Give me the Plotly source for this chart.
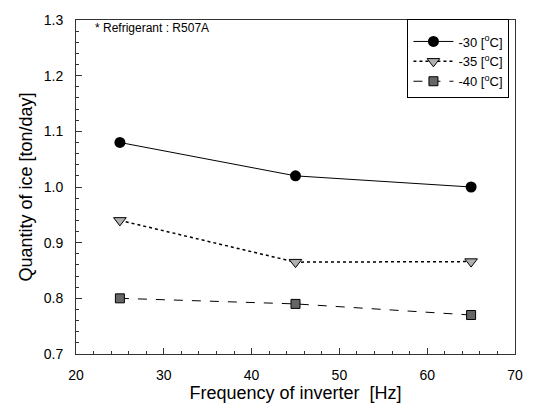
import plotly.graph_objects as go

freq = [25, 45, 65]
ice_m30 = [1.08, 1.02, 1.00]
ice_m35 = [0.94, 0.865, 0.866]
ice_m40 = [0.80, 0.79, 0.77]
names = ["-30 [<sup>o</sup>C]", "-35 [<sup>o</sup>C]", "-40 [<sup>o</sup>C]"]

fig = go.Figure()
fig.add_trace(go.Scatter(x=freq, y=ice_m30, name=names[0], mode="lines+markers",
                         line=dict(color="black", width=1),
                         marker=dict(symbol="circle", size=11, color="black")))
fig.add_trace(go.Scatter(x=freq, y=ice_m35, name=names[1], mode="lines+markers",
                         line=dict(color="black", width=1.5, dash="dot"),
                         marker=dict(symbol="triangle-down", size=11, color="#b0b0b0",
                                     line=dict(color="black", width=1))))
fig.add_trace(go.Scatter(x=freq, y=ice_m40, name=names[2], mode="lines+markers",
                         line=dict(color="black", width=1, dash="dash"),
                         marker=dict(symbol="square", size=9, color="#666666",
                                     line=dict(color="black", width=1))))

fig.update_layout(
    width=535, height=413,
    margin=dict(l=76, r=13, t=13, b=59),
    paper_bgcolor="white", plot_bgcolor="white",
    font=dict(family="Liberation Sans, Arial, sans-serif", color="black", size=14),
    showlegend=True,
    legend=dict(x=0.755, y=1.003, xanchor="left", yanchor="top",
                bordercolor="black", borderwidth=1, bgcolor="white",
                font=dict(size=13), tracegroupgap=0, itemwidth=40,
                title=dict(text=" ", font=dict(size=5))),
    xaxis=dict(range=[20, 70], dtick=10, showline=True, linecolor="#333", linewidth=1,
               mirror=True, ticks="inside", ticklen=6, tickcolor="#333", showgrid=False,
               zeroline=False, tickfont=dict(size=14), ticklabelstandoff=8,
               minor=dict(dtick=2, ticks="inside", ticklen=3, tickcolor="#333"),
               title=dict(text="Frequency of inverter  [Hz]", font=dict(size=18), standoff=4)),
    yaxis=dict(range=[0.7, 1.3], dtick=0.1, tickformat=".1f", showline=True, linecolor="#333",
               linewidth=1, mirror=True, ticks="inside", ticklen=6, tickcolor="#333",
               showgrid=False, zeroline=False, tickfont=dict(size=14), ticklabelstandoff=9,
               minor=dict(dtick=0.02, ticks="inside", ticklen=3, tickcolor="#333"),
               title=dict(text="Quantity of ice [ton/day]", font=dict(size=18), standoff=6)),
)
fig.add_annotation(text="* Refrigerant : R507A", xref="paper", yref="paper",
                   x=0.038, y=1.003, xanchor="left", yanchor="top", showarrow=False,
                   font=dict(size=12))
fig.write_html("out.html")
